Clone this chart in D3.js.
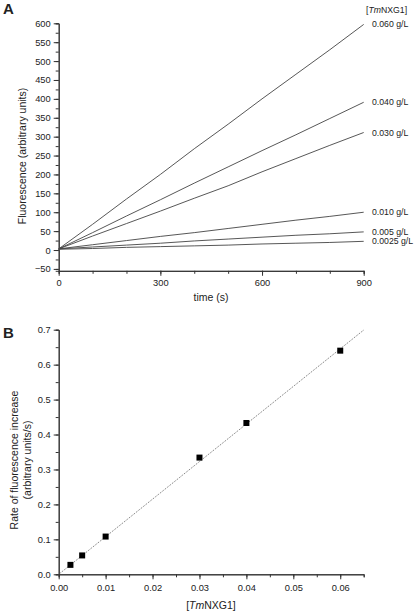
<!DOCTYPE html>
<html><head><meta charset="utf-8">
<script src="https://cdn.jsdelivr.net/npm/d3@7"></script>
<style>
body{margin:0;background:#fff;}
text{font-family:"Liberation Sans",Arial,Helvetica,sans-serif;fill:#222;}
</style></head>
<body><svg id="c" width="415" height="613"></svg>
<script>
// ---- Panel A data ----
const times = [0,100,200,300,400,500,600,700,800,900];
const concLabels = ["0.060 g/L","0.040 g/L","0.030 g/L","0.010 g/L","0.005 g/L","0.0025 g/L"];
const f060 = [3, 68, 135, 200, 268, 333, 400, 465, 530, 597];
const f040 = [3, 46, 90, 133, 177, 220, 263, 305, 348, 391];
const f030 = [3, 37, 70, 103, 137, 170, 207, 242, 277, 311];
const f010 = [3, 14, 25, 36, 46, 57, 68, 79, 89, 100];
const f005 = [3, 8, 13, 18, 24, 29, 34, 39, 43, 48];
const f0025 = [2, 4, 7, 9, 11, 13, 16, 18, 20, 23];
const seriesA = [f060, f040, f030, f010, f005, f0025];
const xTicksA = [0,300,600,900];
const yTicksA = [-50,0,50,100,150,200,250,300,350,400,450,500,550,600];

// ---- Panel B data ----
const conc = [0.0025, 0.005, 0.010, 0.030, 0.040, 0.060];
const rate = [0.027, 0.054, 0.108, 0.334, 0.433, 0.640];
const fitX = [0, 0.065];
const fitY = [0, 0.699];
const xTicksB = [0,0.01,0.02,0.03,0.04,0.05,0.06];
const yTicksB = [0,0.1,0.2,0.3,0.4,0.5,0.6,0.7];

const svg = d3.select("#c");

// ---------- Panel A ----------
const xA = d3.scaleLinear().domain([0,900]).range([58.7,363.7]);
const yA = d3.scaleLinear().domain([-55,600]).range([270.8,23.3]);

function axisStyle(g){
  g.selectAll("path,line").attr("stroke","#333").attr("stroke-width",1);
  g.selectAll("text").attr("font-size","9.3px").attr("fill","#222");
}

const gA = svg.append("g");
gA.append("g").attr("transform",`translate(0,${yA(-55)})`)
  .call(d3.axisBottom(xA).tickValues(d3.range(0,901,100)).tickSize(3).tickFormat(""))
  .call(axisStyle);
gA.append("g").attr("transform",`translate(${xA(0)},0)`)
  .call(d3.axisLeft(yA).tickValues(d3.range(-50,601,25)).tickSize(3).tickFormat(""))
  .call(axisStyle);
gA.append("g").attr("transform",`translate(0,${yA(-55)})`)
  .call(d3.axisBottom(xA).tickValues(xTicksA).tickSize(5).tickSizeOuter(0).tickPadding(4).tickFormat(d3.format("d")))
  .call(axisStyle);
gA.append("g").attr("transform",`translate(${xA(0)},0)`)
  .call(d3.axisLeft(yA).tickValues(yTicksA).tickSize(5).tickSizeOuter(0).tickPadding(3).tickFormat(d3.format("d")))
  .call(axisStyle);

const lineA = d3.line().x((d,i)=>xA(times[i])).y(d=>yA(d));
seriesA.forEach((s,k)=>{
  gA.append("path").datum(s).attr("d",lineA)
    .attr("fill","none").attr("stroke","#444").attr("stroke-width",0.9);
  gA.append("text").attr("x",372).attr("y",yA(s[s.length-1])).attr("dy","0.35em")
    .attr("font-size","8.7px").text(concLabels[k]);
});
const legT = gA.append("text").attr("x",366).attr("y",10).attr("dy","0.35em").attr("font-size","8.7px");
legT.append("tspan").text("[");
legT.append("tspan").attr("font-style","italic").text("Tm");
legT.append("tspan").text("NXG1]");

gA.append("text").attr("x",211).attr("y",297).attr("dy","0.35em").attr("text-anchor","middle")
  .attr("font-size","10.5px").text("time (s)");
gA.append("text").attr("transform","translate(22,156) rotate(-90)").attr("dy","0.35em")
  .attr("text-anchor","middle").attr("font-size","10.5px").text("Fluorescence (arbitrary units)");
svg.append("text").attr("x",3).attr("y",14).attr("font-size","15px").attr("font-weight","bold").text("A");

// ---------- Panel B ----------
const xB = d3.scaleLinear().domain([0,0.065]).range([58.7,363.7]);
const yB = d3.scaleLinear().domain([0,0.7]).range([574.3,329.7]);
const gB = svg.append("g");
gB.append("g").attr("transform",`translate(0,${yB(0)})`)
  .call(d3.axisBottom(xB).tickValues(d3.range(0,14).map(i=>i*0.005)).tickSize(3).tickFormat(""))
  .call(axisStyle);
gB.append("g").attr("transform",`translate(${xB(0)},0)`)
  .call(d3.axisLeft(yB).tickValues(d3.range(0,15).map(i=>i*0.05)).tickSize(3).tickFormat(""))
  .call(axisStyle);
gB.append("g").attr("transform",`translate(0,${yB(0)})`)
  .call(d3.axisBottom(xB).tickValues(xTicksB).tickSize(5).tickSizeOuter(0).tickPadding(5).tickFormat(d3.format(".2f")))
  .call(axisStyle);
gB.append("g").attr("transform",`translate(${xB(0)},0)`)
  .call(d3.axisLeft(yB).tickValues(yTicksB).tickSize(5).tickSizeOuter(0).tickPadding(3).tickFormat(d3.format(".1f")))
  .call(axisStyle);

gB.append("path").datum(fitX.map((x,i)=>[x,fitY[i]]))
  .attr("d",d3.line().x(d=>xB(d[0])).y(d=>yB(d[1])))
  .attr("fill","none").attr("stroke","#555").attr("stroke-width",0.9).attr("stroke-dasharray","1,1.2");
gB.selectAll("rect.pt").data(conc).join("rect").attr("class","pt")
  .attr("x",d=>xB(d)-3).attr("y",(d,i)=>yB(rate[i])-3).attr("width",6).attr("height",6).attr("fill","#000");

const xtB = gB.append("text").attr("x",211).attr("y",605).attr("dy","0.35em").attr("text-anchor","middle").attr("font-size","10.5px");
xtB.append("tspan").text("[");
xtB.append("tspan").attr("font-style","italic").text("Tm");
xtB.append("tspan").text("NXG1]");
const ytB = gB.append("text").attr("transform","translate(14,460) rotate(-90)").attr("text-anchor","middle").attr("font-size","10.5px");
ytB.append("tspan").attr("x",0).attr("dy","0.35em").text("Rate of fluorescence increase");
ytB.append("tspan").attr("x",0).attr("dy","1.25em").text("(arbitrary units/s)");
svg.append("text").attr("x",3).attr("y",338).attr("font-size","15px").attr("font-weight","bold").text("B");
</script></body></html>
